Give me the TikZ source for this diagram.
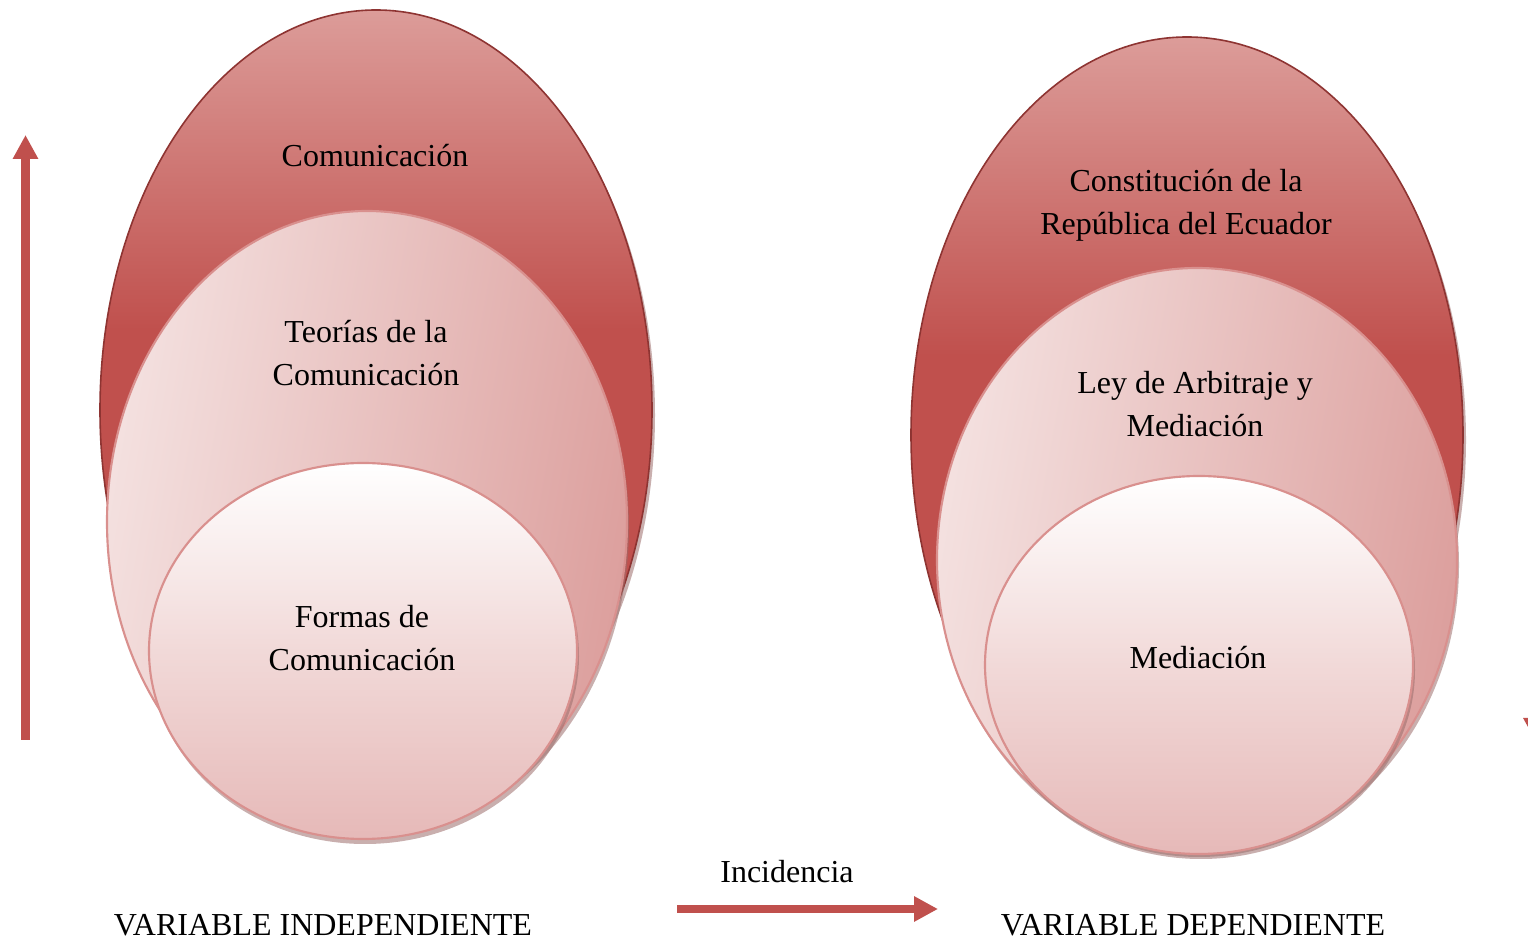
\documentclass[tikz,border=0pt]{standalone}
\usepackage{fontspec}
\setmainfont{Liberation Serif}
\usetikzlibrary{arrows.meta,positioning}
\definecolor{accred}{HTML}{C0504D}
\definecolor{accdark}{HTML}{8E3432}
\definecolor{acclight}{HTML}{DC9C99}
\definecolor{rosepale}{HTML}{F4E1E0}
\definecolor{rosemid}{HTML}{E6B9B8}
\definecolor{rosedeep}{HTML}{DC9F9D}
\definecolor{roseline}{HTML}{D9908E}
\definecolor{shadowgray}{HTML}{9C6E6C}
\pgfdeclareverticalshading{outerfade}{100bp}{color(0bp)=(accred); color(55bp)=(accred); color(75bp)=(acclight); color(100bp)=(acclight)}

\begin{document}
\begin{tikzpicture}[x=0.375pt,y=-0.375pt,font=\fontsize{12}{16}\selectfont]
  \tikzstyle{shade1}=[fill=shadowgray,opacity=0.55]
  \tikzstyle{bigell}=[shading=outerfade,draw=accdark,line width=0.6pt]
  \tikzstyle{midell}=[left color=rosepale,right color=rosedeep,shading angle=80,draw=roseline,line width=0.8pt]
  \tikzstyle{smallell}=[top color=white,bottom color=rosemid,middle color=rosepale!80!rosemid,draw=roseline,line width=0.8pt]
  \tikzstyle{lbl}=[align=center,text=black]
  \tikzstyle{bigarrow}=[accred,line width=3.2pt,-{Triangle[length=9pt,width=9pt]}]
  \useasboundingbox (0,0) rectangle (1528,943);

  % independent variable
  \path[shade1] (379,415) ellipse [x radius=276,y radius=400];
  \shade[bigell] (376,410) ellipse [x radius=276,y radius=400];
  \path[shade1] (369,527) ellipse [x radius=260,y radius=311];
  \shade[midell] (367,522) ellipse [x radius=260,y radius=311];
  \path[shade1] (365,656) ellipse [x radius=214,y radius=188];
  \shade[smallell] (363,651) ellipse [x radius=214,y radius=188];

  % dependent variable
  \path[shade1] (1190,440) ellipse [x radius=276,y radius=398];
  \shade[bigell] (1187,435) ellipse [x radius=276,y radius=398];
  \path[shade1] (1199,565) ellipse [x radius=260,y radius=292];
  \shade[midell] (1197,560) ellipse [x radius=260,y radius=292];
  \path[shade1] (1201,670) ellipse [x radius=214,y radius=189];
  \shade[smallell] (1199,665) ellipse [x radius=214,y radius=189];

  \node[lbl,anchor=base] (com) at (375,167) {Comunicación};
  \node[lbl] (teo) at (366,353) {Teorías de la\\Comunicación};
  \node[lbl] (for) at (362,638) {Formas de\\Comunicación};
  \node[lbl] (cons) at (1186,205) {Constitución de la\\República del Ecuador};
  \node[lbl] (ley) at (1195,404) {Ley de Arbitraje y\\Mediación};
  \node[lbl,anchor=base] (med) at (1198,669) {Mediación};

  \node[lbl,anchor=base] (vi) at (323,935) {VARIABLE INDEPENDIENTE};
  \node[lbl,anchor=base] (vd) at (1193,935) {VARIABLE DEPENDIENTE};
  \node[lbl,anchor=base] (inc) at (787,882) {Incidencia};

  % arrows
  \coordinate (up0) at (25.5,740);
  \coordinate (up1) at (25.5,135);
  \coordinate (dn0) at (1536,137);
  \coordinate (dn1) at (1536,742);
  \coordinate (in0) at (677,909);
  \coordinate (in1) at (938,909);
  \draw[bigarrow] (up0) -- (up1);
  \draw[bigarrow] (dn0) -- (dn1);
  \draw[bigarrow] (in0) -- (in1);
\end{tikzpicture}
\end{document}
